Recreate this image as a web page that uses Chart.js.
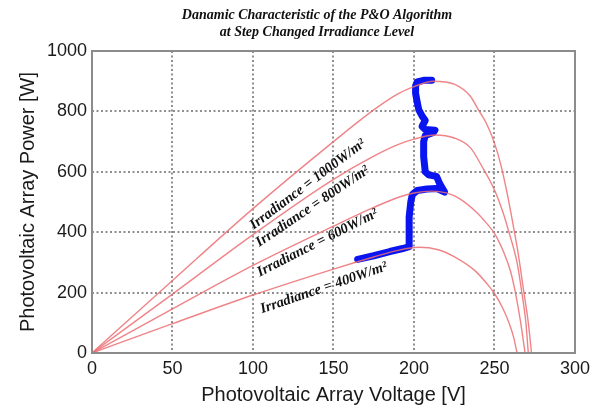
<!DOCTYPE html>
<html>
<head>
<meta charset="utf-8">
<script src="https://cdn.jsdelivr.net/npm/chart.js@4/dist/chart.umd.min.js"></script>
<style>
  html, body { margin: 0; padding: 0; background: #fff; }
  #wrap { width: 595px; height: 410px; }
</style>
</head>
<body>
<div id="wrap"><canvas id="pvchart"></canvas></div>
<script>
// P-V curves (voltage [V], power [W])
const v1000 = [0, 50, 100, 150, 175, 190, 200, 212, 225, 235, 240, 245, 250, 254, 258, 262, 265, 268, 271, 273];
const p1000 = [0, 240, 478, 700, 805, 858, 882, 900, 890, 850, 805, 760, 695, 622, 525, 412, 320, 210, 100, 0];
const v800 = [0, 50, 100, 150, 175, 190, 200, 213, 225, 235, 242, 250, 255, 259, 264, 267, 269.5, 271];
const p800 = [0, 195, 392, 575, 652, 690, 708, 722, 712, 680, 620, 540, 470, 400, 300, 200, 100, 0];
const v600 = [0, 50, 100, 150, 175, 190, 200, 211, 220, 228, 238, 245, 250, 256, 260, 263, 266, 269];
const p600 = [0, 146, 290, 420, 482, 515, 530, 536, 530, 512, 470, 430, 396, 330, 270, 200, 110, 0];
const v400 = [0, 50, 100, 150, 175, 190, 203, 215, 226, 238, 246, 250, 255, 259, 262, 264];
const p400 = [0, 97, 192, 278, 318, 340, 350, 342, 316, 272, 225, 197, 150, 100, 50, 0];

// P&O operating point trajectory
const poV = [165, 175, 185, 193, 197, 197, 197, 198, 199, 202, 208, 214, 219, 216, 214, 209, 207, 206, 206, 207, 212, 213, 207, 205, 207, 205, 203, 202, 201, 201, 202, 206, 211];
const poP = [310, 322, 336, 346, 352, 400, 450, 500, 525, 538, 543, 545, 533, 560, 585, 590, 600, 650, 700, 720, 730, 738, 740, 750, 770, 785, 805, 830, 860, 885, 898, 903, 903];

const curveNames = ['Irradiance = 1000W/m²', 'Irradiance = 800W/m²', 'Irradiance = 600W/m²', 'Irradiance = 400W/m²'];

function toPoints(xs, ys) {
    return xs.map((x, i) => ({ x: x, y: ys[i] }));
}

// where the rotated curve names sit (data coords) and their angle
const labelSpots = [
    { x: 134, y: 558, angle: -37 },
    { x: 137, y: 485, angle: -34 },
    { x: 140, y: 364, angle: -27 },
    { x: 144, y: 215, angle: -19 }
];

const curveStyle = {
    borderColor: 'rgba(236, 110, 115, 0.85)',
    borderWidth: 1.4,
    pointRadius: 0,
    showLine: true,
    fill: false,
    cubicInterpolationMode: 'monotone'
};

const decorations = {
    id: 'decorations',
    afterDatasetsDraw(chart) {
        const ctx = chart.ctx;
        const area = chart.chartArea;
        const xs = chart.scales.x, ys = chart.scales.y;

        // frame round the plot
        ctx.save();
        ctx.strokeStyle = '#8c8c8c';
        ctx.lineWidth = 2;
        ctx.strokeRect(area.left, area.top, area.right - area.left, area.bottom - area.top);

        // curve names
        ctx.fillStyle = '#111';
        ctx.font = 'italic bold 14.5px "Liberation Serif", "Times New Roman", serif';
        ctx.textAlign = 'center';
        ctx.textBaseline = 'middle';
        labelSpots.forEach((s, i) => {
            ctx.save();
            ctx.translate(xs.getPixelForValue(s.x), ys.getPixelForValue(s.y));
            ctx.rotate(s.angle * Math.PI / 180);
            ctx.fillText(curveNames[i], 0, 0);
            ctx.restore();
        });

        // title
        ctx.font = 'italic bold 14px "Liberation Serif", "Times New Roman", serif';
        ctx.fillText('Danamic Characteristic of the P&O Algorithm', 317, 15);
        ctx.fillText('at Step Changed Irradiance Level', 317, 32);
        ctx.restore();
    }
};

const tickFont = { family: '"Liberation Sans", Arial, sans-serif', size: 18 };
const titleFont = { family: '"Liberation Sans", Arial, sans-serif', size: 20 };

const config = {
    type: 'scatter',
    data: {
        datasets: [
            Object.assign({ label: curveNames[0], data: toPoints(v1000, p1000) }, curveStyle),
            Object.assign({ label: curveNames[1], data: toPoints(v800, p800) }, curveStyle),
            Object.assign({ label: curveNames[2], data: toPoints(v600, p600) }, curveStyle),
            Object.assign({ label: curveNames[3], data: toPoints(v400, p400) }, curveStyle),
            {
                label: 'P&O',
                data: toPoints(poV, poP),
                borderColor: '#0a14f0',
                borderWidth: 7,
                borderCapStyle: 'round',
                borderJoinStyle: 'round',
                pointRadius: 0,
                showLine: true,
                tension: 0
            }
        ]
    },
    options: {
        responsive: false,
        animation: false,
        layout: { padding: { top: 51, right: 18, left: 0, bottom: 0 } },
        plugins: {
            legend: { display: false },
            title: { display: false },
            tooltip: { enabled: false }
        },
        scales: {
            x: {
                type: 'linear',
                min: 0,
                max: 300,
                ticks: {
                    stepSize: 50,
                    padding: 5,
                    color: '#1a1a1a',
                    font: tickFont
                },
                grid: { color: '#8f8f8f', lineWidth: 2, drawTicks: false },
                border: { display: false, dash: [2, 2.5] },
                title: {
                    display: true,
                    text: 'Photovoltaic Array Voltage [V]',
                    color: '#1a1a1a',
                    padding: { top: 0, bottom: 3 },
                    font: titleFont
                },
                afterFit: function(axis) { axis.height = 57; }
            },
            y: {
                type: 'linear',
                min: 0,
                max: 1000,
                ticks: {
                    stepSize: 200,
                    padding: 5,
                    color: '#1a1a1a',
                    font: tickFont,
                    callback: function(value) { return String(value); }
                },
                grid: { color: '#8f8f8f', lineWidth: 2, drawTicks: false },
                border: { display: false, dash: [2, 2.5] },
                title: {
                    display: true,
                    text: 'Photovoltaic Array Power [W]',
                    color: '#1a1a1a',
                    padding: { top: 16, bottom: 0 },
                    font: titleFont
                },
                afterFit: function(axis) { axis.width = 92; }
            }
        }
    },
    plugins: [decorations]
};

const canvas = document.getElementById('pvchart');
canvas.width = 595;
canvas.height = 410;
new Chart(canvas, config);
</script>
</body>
</html>
